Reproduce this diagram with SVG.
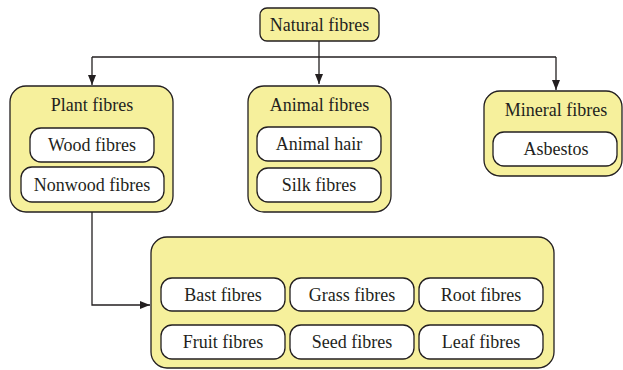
<svg xmlns="http://www.w3.org/2000/svg" width="623" height="370" viewBox="0 0 623 370">
<style>
.box{fill:#f6f09c;stroke:#231f20;stroke-width:1.3}
.inner{fill:#ffffff;stroke:#231f20;stroke-width:1.3}
.t{font-family:"Liberation Serif","DejaVu Serif",serif;font-size:18px;fill:#231f20;text-anchor:middle}
.c{fill:none;stroke:#231f20;stroke-width:1.3}
</style>
<defs>
<marker id="ah" markerWidth="10" markerHeight="8" refX="10" refY="4" orient="auto" markerUnits="userSpaceOnUse">
<path d="M0,0 L10,4 L0,8 Z" fill="#231f20"/>
</marker>
</defs>
<g id="connectors">
<path class="c" d="M319,41 V84" marker-end="url(#ah)"/>
<path class="c" d="M92,57 H556"/>
<path class="c" d="M92,57 V85" marker-end="url(#ah)"/>
<path class="c" d="M556,57 V90" marker-end="url(#ah)"/>
<path class="c" d="M92,202 V305 H150" marker-end="url(#ah)"/>
</g>
<g id="natural">
<rect class="box" x="260" y="8" width="119" height="33" rx="7"/>
<text class="t" x="319.5" y="30.5">Natural fibres</text>
</g>
<g id="plant">
<rect class="box" x="10" y="86" width="163" height="126" rx="16"/>
<text class="t" x="92" y="110.5">Plant fibres</text>
</g>
<g id="wood">
<rect class="inner" x="30" y="128" width="124" height="34" rx="11"/>
<text class="t" x="92" y="151">Wood fibres</text>
</g>
<g id="nonwood">
<rect class="inner" x="21" y="167" width="143" height="35" rx="11"/>
<text class="t" x="92" y="190.5">Nonwood fibres</text>
</g>
<g id="animal">
<rect class="box" x="248" y="86" width="143" height="126" rx="16"/>
<text class="t" x="319.5" y="110.5">Animal fibres</text>
</g>
<g id="animalhair">
<rect class="inner" x="257" y="127" width="124" height="34" rx="11"/>
<text class="t" x="319" y="150">Animal hair</text>
</g>
<g id="silk">
<rect class="inner" x="257" y="168" width="124" height="34" rx="11"/>
<text class="t" x="319" y="191">Silk fibres</text>
</g>
<g id="mineral">
<rect class="box" x="484" y="91" width="138" height="85" rx="16"/>
<text class="t" x="556" y="115.5">Mineral fibres</text>
</g>
<g id="asbestos">
<rect class="inner" x="493" y="132" width="124" height="34" rx="11"/>
<text class="t" x="556" y="155">Asbestos</text>
</g>
<g id="nonwoodgroup">
<rect class="box" x="151" y="237" width="403" height="131" rx="16"/>
</g>
<g id="bast">
<rect class="inner" x="161" y="278" width="124" height="33" rx="11"/>
<text class="t" x="223" y="300.5">Bast fibres</text>
</g>
<g id="grass">
<rect class="inner" x="290" y="278" width="124" height="33" rx="11"/>
<text class="t" x="352" y="300.5">Grass fibres</text>
</g>
<g id="root">
<rect class="inner" x="419" y="278" width="124" height="33" rx="11"/>
<text class="t" x="481" y="300.5">Root fibres</text>
</g>
<g id="fruit">
<rect class="inner" x="161" y="325" width="124" height="34" rx="11"/>
<text class="t" x="223" y="347.5">Fruit fibres</text>
</g>
<g id="seed">
<rect class="inner" x="290" y="325" width="124" height="34" rx="11"/>
<text class="t" x="352" y="347.5">Seed fibres</text>
</g>
<g id="leaf">
<rect class="inner" x="419" y="325" width="124" height="34" rx="11"/>
<text class="t" x="481" y="347.5">Leaf fibres</text>
</g>
</svg>
